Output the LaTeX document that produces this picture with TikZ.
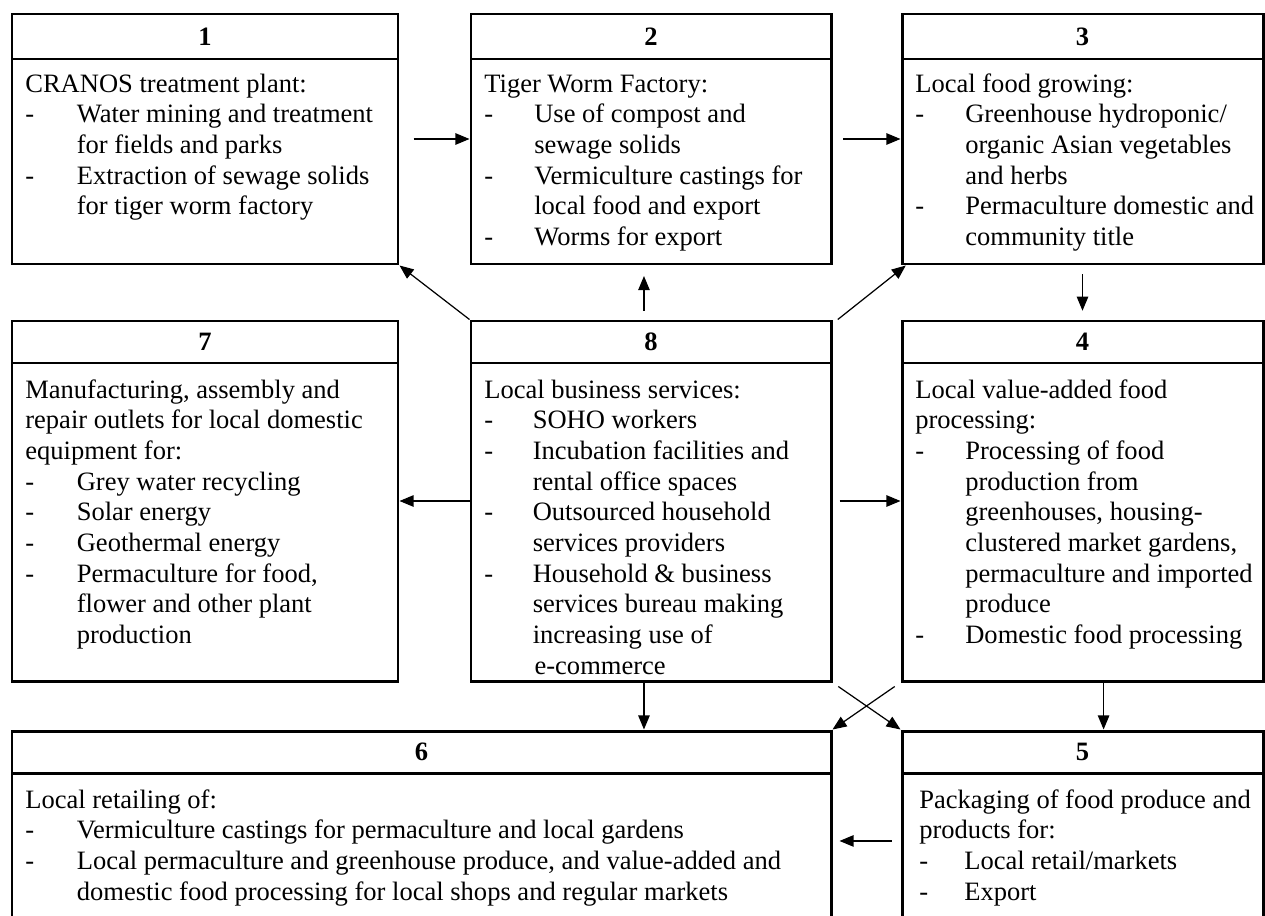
\documentclass[tikz,border=0pt]{standalone}
\usepackage{fontspec}
\setmainfont{Liberation Serif}
\usetikzlibrary{arrows.meta,fit}

\begin{document}
\begin{tikzpicture}[x=0.02cm, y=-0.02cm]
    % ===== PARAMETERS =====
    % columns (left / right edges)
    \pgfmathsetmacro{\Al}{12}   \pgfmathsetmacro{\Ar}{398}
    \pgfmathsetmacro{\Bl}{471}  \pgfmathsetmacro{\Br}{831}
    \pgfmathsetmacro{\Cl}{902}  \pgfmathsetmacro{\Cr}{1263}
    % rows (top / header line / bottom)
    \pgfmathsetmacro{\Rat}{14}  \pgfmathsetmacro{\Rah}{59}  \pgfmathsetmacro{\Rab}{264}
    \pgfmathsetmacro{\Rbt}{321} \pgfmathsetmacro{\Rbh}{363} \pgfmathsetmacro{\Rbb}{681}
    \pgfmathsetmacro{\Rct}{731} \pgfmathsetmacro{\Rch}{773} \pgfmathsetmacro{\Rcb}{920}
    \pgfmathsetmacro{\Pad}{13}  % text indent inside box
    \pgfmathsetmacro{\Gap}{11.5} % header line to text top

    \useasboundingbox (0,0) rectangle (1265,916);

    % ===== STYLES =====
    \tikzset{
        box/.style={draw, line width=1.7pt, inner sep=0pt},
        headrule/.style={line width=1.7pt},
        num/.style={font=\fontsize{15.1pt}{17.45pt}\selectfont\bfseries},
        body/.style={anchor=north west, inner sep=0pt,
            font=\fontsize{15.1pt}{17.45pt}\selectfont},
        arr/.style={-{Triangle[length=8pt,width=6.5pt]}, line width=0.7pt}
    }

    % ===== BOXES =====
    \node[box, fit={(\Al,\Rat) (\Ar,\Rab)}] (b1) {};
    \node[box, fit={(\Bl,\Rat) (\Br,\Rab)}] (b2) {};
    \node[box, fit={(\Cl,\Rat) (\Cr,\Rab)}] (b3) {};
    \node[box, fit={(\Al,\Rbt) (\Ar,\Rbb)}] (b7) {};
    \node[box, fit={(\Bl,\Rbt) (\Br,\Rbb)}] (b8) {};
    \node[box, fit={(\Cl,\Rbt) (\Cr,\Rbb)}] (b4) {};
    \node[box, fit={(\Al,\Rct) (\Br,\Rcb)}] (b6) {};
    \node[box, fit={(\Cl,\Rct) (\Cr,\Rcb)}] (b5) {};

    % Header lines
    \draw[headrule] (\Al,\Rah) -- (\Ar,\Rah);
    \draw[headrule] (\Bl,\Rah) -- (\Br,\Rah);
    \draw[headrule] (\Cl,\Rah) -- (\Cr,\Rah);
    \draw[headrule] (\Al,\Rbh) -- (\Ar,\Rbh);
    \draw[headrule] (\Bl,\Rbh) -- (\Br,\Rbh);
    \draw[headrule] (\Cl,\Rbh) -- (\Cr,\Rbh);
    \draw[headrule] (\Al,\Rch) -- (\Br,\Rch);
    \draw[headrule] (\Cl,\Rch) -- (\Cr,\Rch);

    % ===== NUMBERS =====
    \node[num] (n1) at ({(\Al+\Ar)/2},{(\Rat+\Rah)/2}) {1};
    \node[num] (n2) at ({(\Bl+\Br)/2},{(\Rat+\Rah)/2}) {2};
    \node[num] (n3) at ({(\Cl+\Cr)/2},{(\Rat+\Rah)/2}) {3};
    \node[num] (n7) at ({(\Al+\Ar)/2},{(\Rbt+\Rbh)/2}) {7};
    \node[num] (n8) at ({(\Bl+\Br)/2},{(\Rbt+\Rbh)/2}) {8};
    \node[num] (n4) at ({(\Cl+\Cr)/2},{(\Rbt+\Rbh)/2}) {4};
    \node[num] (n6) at ({(\Al+\Br)/2},{(\Rct+\Rch)/2}) {6};
    \node[num] (n5) at ({(\Cl+\Cr)/2},{(\Rct+\Rch)/2}) {5};

    % ===== TEXT INSIDE BOXES =====
    \node[body] (t1) at ({\Al+\Pad},{\Rah+\Gap}) {%
        \begin{tabular}{@{}p{1.03cm}@{}l@{}}
            \multicolumn{2}{@{}l@{}}{CRANOS treatment plant:} \\
            - & Water mining and treatment \\
              & for fields and parks \\
            - & Extraction of sewage solids \\
              & for tiger worm factory
        \end{tabular}};
    \node[body] (t2) at ({\Bl+\Pad},{\Rah+\Gap}) {%
        \begin{tabular}{@{}p{1cm}@{}l@{}}
            \multicolumn{2}{@{}l@{}}{Tiger Worm Factory:} \\
            - & Use of compost and \\
              & sewage solids \\
            - & Vermiculture castings for \\
              & local food and export \\
            - & Worms for export
        \end{tabular}};
    \node[body] (t3) at ({\Cl+\Pad},{\Rah+\Gap}) {%
        \begin{tabular}{@{}p{1cm}@{}l@{}}
            \multicolumn{2}{@{}l@{}}{Local food growing:} \\
            - & Greenhouse hydroponic/ \\
              & organic Asian vegetables \\
              & and herbs \\
            - & Permaculture domestic and \\
              & community title
        \end{tabular}};
    \node[body] (t7) at ({\Al+\Pad},{\Rbh+\Gap+2}) {%
        \begin{tabular}{@{}p{1.03cm}@{}l@{}}
            \multicolumn{2}{@{}l@{}}{Manufacturing, assembly and} \\
            \multicolumn{2}{@{}l@{}}{repair outlets for local domestic} \\
            \multicolumn{2}{@{}l@{}}{equipment for:} \\
            - & Grey water recycling \\
            - & Solar energy \\
            - & Geothermal energy \\
            - & Permaculture for food, \\
              & flower and other plant \\
              & production
        \end{tabular}};
    \node[body] (t8) at ({\Bl+\Pad},{\Rbh+\Gap+2}) {%
        \begin{tabular}{@{}p{0.97cm}@{}l@{}}
            \multicolumn{2}{@{}l@{}}{Local business services:} \\
            - & SOHO workers \\
            - & Incubation facilities and \\
              & rental office spaces \\
            - & Outsourced household \\
              & services providers \\
            - & Household \& business \\
              & services bureau making \\
              & increasing use of \\
              & \hspace{1pt}e-commerce
        \end{tabular}};
    \node[body] (t4) at ({\Cl+\Pad},{\Rbh+\Gap+2}) {%
        \begin{tabular}{@{}p{1cm}@{}l@{}}
            \multicolumn{2}{@{}l@{}}{Local value-added food} \\
            \multicolumn{2}{@{}l@{}}{processing:} \\
            - & Processing of food \\
              & production from \\
              & greenhouses, housing- \\
              & clustered market gardens, \\
              & permaculture and imported \\
              & produce \\
            - & Domestic food processing
        \end{tabular}};
    \node[body] (t6) at ({\Al+\Pad},{\Rch+\Gap+2}) {%
        \begin{tabular}{@{}p{1.03cm}@{}l@{}}
            \multicolumn{2}{@{}l@{}}{Local retailing of:} \\
            - & Vermiculture castings for permaculture and local gardens \\
            - & Local permaculture and greenhouse produce, and value-added and \\
              & domestic food processing for local shops and regular markets
        \end{tabular}};
    \node[body] (t5) at ({\Cl+\Pad+4},{\Rch+\Gap+2}) {%
        \begin{tabular}{@{}p{0.9cm}@{}l@{}}
            \multicolumn{2}{@{}l@{}}{Packaging of food produce and} \\
            \multicolumn{2}{@{}l@{}}{products for:} \\
            - & Local retail/markets \\
            - & Export
        \end{tabular}};

    % ===== ARROWS =====
    % top row, left to right
    \draw[arr, shorten <=8pt] (b1.east) -- (b2.west);
    \draw[arr, shorten <=6pt] (b2.east) -- (b3.west);
    \draw[arr, shorten <=5pt, shorten >=5pt] (b3.south) -- (b4.north);
    % from the services hub
    \draw[arr] (b8.north west) -- (b1.south east);
    \draw[arr, shorten <=5pt, shorten >=6pt] ([xshift=-4pt]b8.north) -- ([xshift=-4pt]b2.south);
    \draw[arr] ([xshift=3pt]b8.north east) -- ([xshift=3pt]b3.south west);
    \draw[arr] (b8.west) -- (b8.west -| b7.east);
    \draw[arr, shorten <=4pt] (b8.east) -- (b8.east -| b4.west);
    \draw[arr] ([xshift=-4pt]b8.south) -- ([xshift=-4pt]b8.south |- b6.north);
    % crossing arrows
    \draw[arr, shorten <=4pt] (b8.south east) -- (b5.north west);
    \draw[arr, shorten <=4pt] (b4.south west) -- (b6.north east);
    % right column down, then back to retail
    \draw[arr] ([xshift=12pt]b4.south) -- ([xshift=12pt]b4.south |- b5.north);
    \draw[arr, shorten <=5pt, shorten >=4pt] ([yshift=-8.8pt]b5.west) -- ([yshift=-8.8pt]b5.west -| b6.east);
\end{tikzpicture}
\end{document}
